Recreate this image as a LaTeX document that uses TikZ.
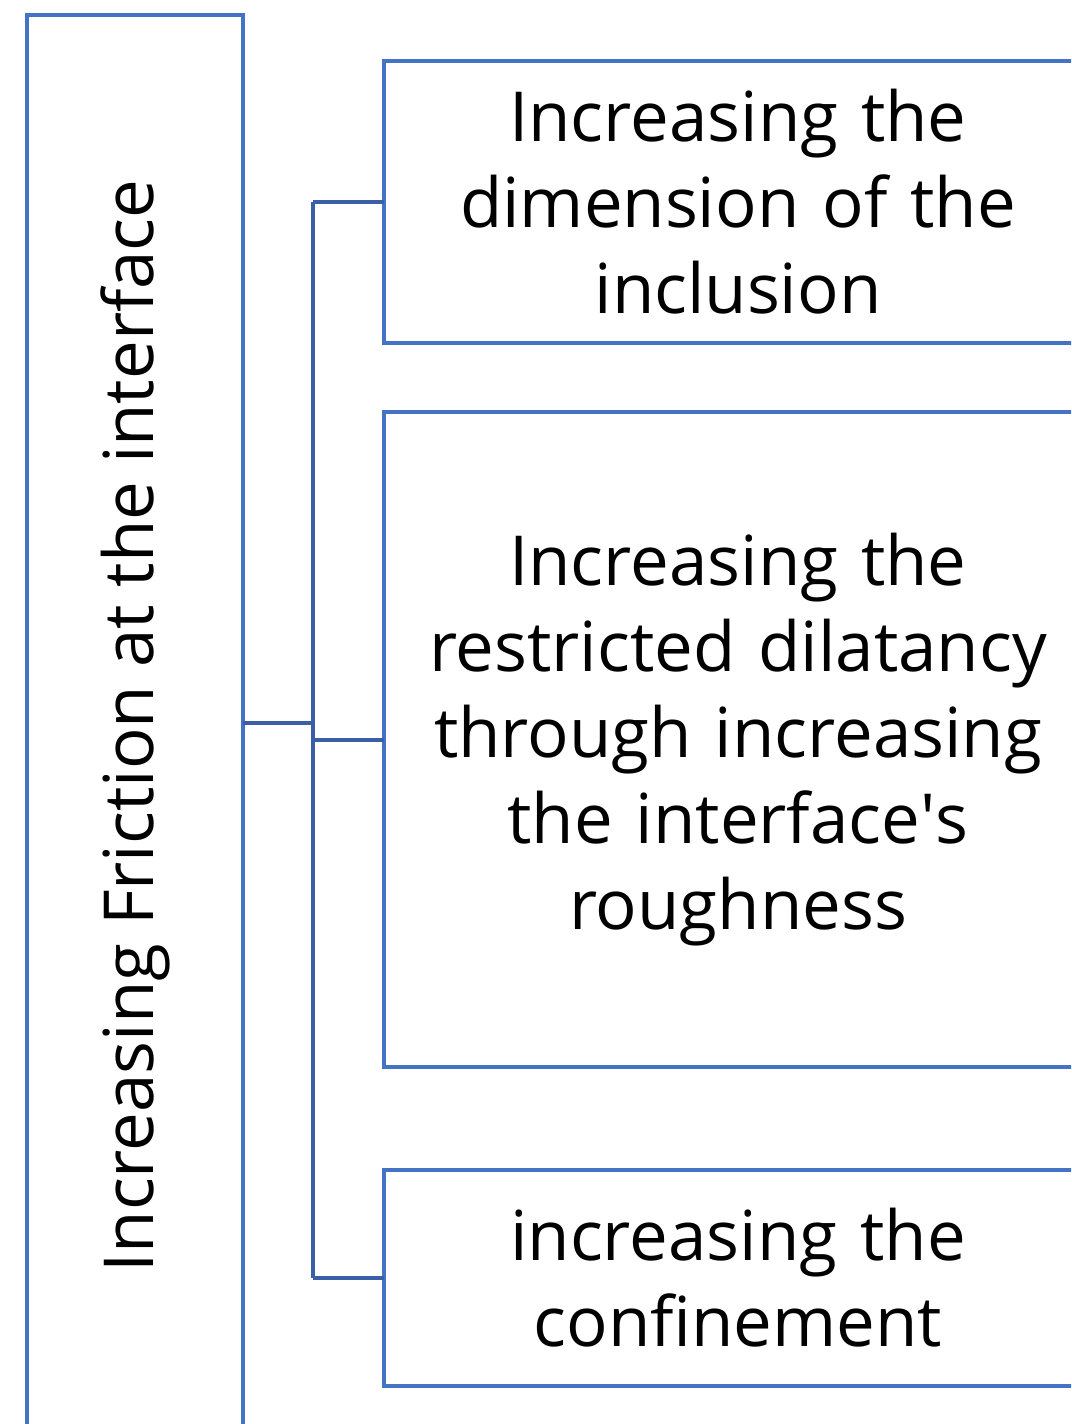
\documentclass[tikz,border=0pt]{standalone}
\usepackage{fontspec}
\setmainfont{Open Sans}
\definecolor{boxblue}{HTML}{4472C4}
\definecolor{linkblue}{HTML}{3B5FA6}
\newcommand{\labelfont}{\fontsize{69}{86}\selectfont}
\begin{document}
\begin{tikzpicture}[x=1pt,y=-1pt,
  frame/.style={draw=boxblue, line width=4.5pt, rectangle, inner sep=0pt, outer sep=0pt},
  item/.style={frame, anchor=north west, minimum width=708pt,
    text width=690pt, align=center, font=\labelfont},
  link/.style={draw=linkblue, line width=4pt}]
\useasboundingbox (0,0) rectangle (1071,1424);
\clip (0,0) rectangle (1071,1424);

% main category, running past the lower edge
\node[frame, anchor=north west, minimum width=216pt, minimum height=1422pt]
  (main) at (27,15)
  {\rotatebox{90}{\labelfont Increasing Friction at the interface}};

% sub-items
\node[item, minimum height=282pt] (b1) at (384,61)
  {Increasing the\\dimension of the\\inclusion};
\node[item, minimum height=655pt] (b2) at (384,412)
  {Increasing the\\restricted dilatancy\\through increasing\\the interface\textquotesingle s\\roughness};
\node[item, minimum height=216pt] (b3) at (384,1170)
  {increasing the\\confinement};

% bracket connector
\coordinate (j) at (313,723);
\draw[link] (main.east |- j) -- (j);
\draw[link] (j |- b1.west) -- (j |- b3.west);
\draw[link] (j |- b1.west) -- (b1.west);
\draw[link] (j |- b2.west) -- (b2.west);
\draw[link] (j |- b3.west) -- (b3.west);
\end{tikzpicture}
\end{document}
